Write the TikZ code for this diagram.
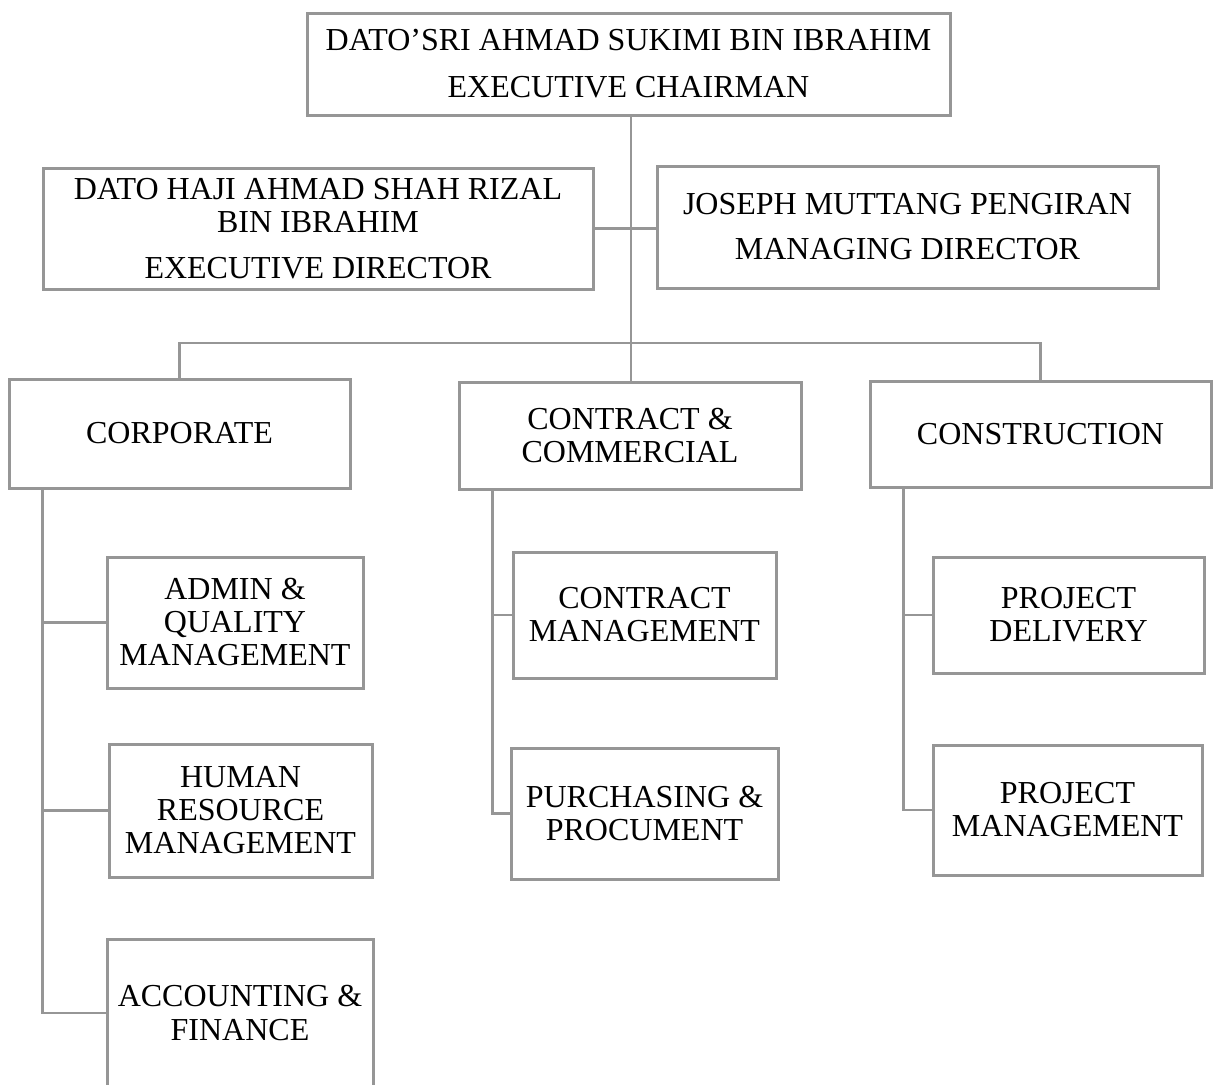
\documentclass[tikz,border=0pt]{standalone}
\usepackage{fontspec}
\setmainfont{Liberation Serif}
\usepackage{tikz}
\usetikzlibrary{positioning,calc}
\definecolor{ChartGray}{RGB}{150,150,150}

\begin{document}
\begin{tikzpicture}[x=1pt,y=-1pt,
        unit/.style={draw=ChartGray,line width=3pt,fill=white,align=center,inner sep=0pt,
            font=\fontsize{32}{33}\selectfont},
        link/.style={draw=ChartGray,line width=2.5pt}]
            \useasboundingbox (0,0) rectangle (1217,1084);
            \clip (0,0) rectangle (1217,1084);
            \node[unit,minimum width=643pt,minimum height=102pt] (chair) at (628.5,64) {DATO'SRI AHMAD SUKIMI BIN IBRAHIM\\[14pt]EXECUTIVE CHAIRMAN};
            \node[unit,minimum width=550pt,minimum height=121pt] (exdir) at (318,228.5) {DATO HAJI AHMAD SHAH RIZAL\\BIN IBRAHIM\\[13pt]EXECUTIVE DIRECTOR};
            \node[unit,minimum width=501pt,minimum height=122pt] (mdir) at (907.5,227) {JOSEPH MUTTANG PENGIRAN\\[12pt]MANAGING DIRECTOR};
            \node[unit,minimum width=341pt,minimum height=109pt] (corp) at (179.5,433.5) {CORPORATE};
            \node[unit,minimum width=342pt,minimum height=107pt] (comm) at (630,435.5) {CONTRACT \&\\COMMERCIAL};
            \node[unit,minimum width=341pt,minimum height=106pt] (cons) at (1040.5,434) {CONSTRUCTION};
            \node[unit,minimum width=256pt,minimum height=131pt] (admin) at (235,622.5) {ADMIN \&\\QUALITY\\MANAGEMENT};
            \node[unit,minimum width=263pt,minimum height=133pt] (hrm) at (240.5,810.5) {HUMAN\\RESOURCE\\MANAGEMENT};
            \node[unit,minimum width=266pt,minimum height=148pt] (acct) at (240,1013) {ACCOUNTING \&\\FINANCE};
            \node[unit,minimum width=263pt,minimum height=126pt] (cmgmt) at (644.5,615) {CONTRACT\\MANAGEMENT};
            \node[unit,minimum width=267pt,minimum height=131pt] (purch) at (644.5,813.5) {PURCHASING \&\\PROCUMENT};
            \node[unit,minimum width=271pt,minimum height=116pt] (pdel) at (1068.5,615) {PROJECT\\DELIVERY};
            \node[unit,minimum width=269pt,minimum height=130pt] (pmgmt) at (1067.5,810) {PROJECT\\MANAGEMENT};
            \coordinate (bus) at (631,343);
            \coordinate (corpspine) at ([xshift=35pt]corp.south west);
            \coordinate (commspine) at ([xshift=35pt]comm.south west);
            \coordinate (consspine) at ([xshift=35pt]cons.south west);
            \draw[link] (bus |- chair.south) -- (bus |- comm.north);
            \draw[link] (exdir.east) -- (exdir.east -| mdir.west);
            \draw[link] (corp.north) |- (bus) -| (cons.north);
            \draw[link] (corpspine) |- (acct.west);
            \foreach \n in {admin,hrm} \draw[link] (corpspine |- \n.west) -- (\n.west);
            \draw[link] (commspine) |- (purch.west);
            \draw[link] (commspine |- cmgmt.west) -- (cmgmt.west);
            \draw[link] (consspine) |- (pmgmt.west);
            \draw[link] (consspine |- pdel.west) -- (pdel.west);
        \end{tikzpicture}
\end{document}
